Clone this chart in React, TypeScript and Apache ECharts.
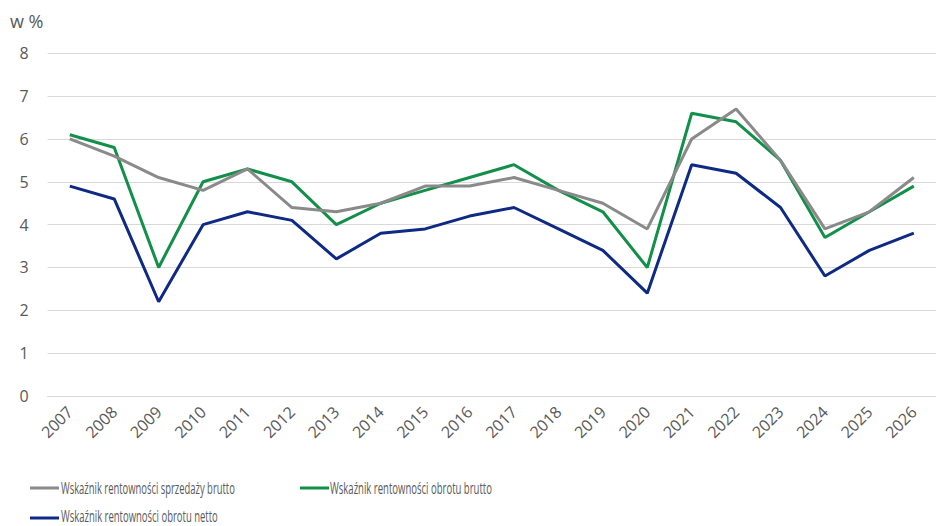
import React, { useEffect, useRef } from "react";
import * as echarts from "echarts";

const years = ["2007","2008","2009","2010","2011","2012","2013","2014","2015","2016","2017","2018","2019","2020","2021","2022","2023","2024","2025","2026"];
const sprzedazyBrutto = [6.0,5.6,5.1,4.8,5.3,4.4,4.3,4.5,4.9,4.9,5.1,4.8,4.5,3.9,6.0,6.7,5.5,3.9,4.3,5.1];
const obrotuBrutto = [6.1,5.8,3.0,5.0,5.3,5.0,4.0,4.5,4.8,5.1,5.4,4.8,4.3,3.0,6.6,6.4,5.5,3.7,4.3,4.9];
const obrotuNetto = [4.9,4.6,2.2,4.0,4.3,4.1,3.2,3.8,3.9,4.2,4.4,3.9,3.4,2.4,5.4,5.2,4.4,2.8,3.4,3.8];
const names = [
  "Wskaźnik rentowności sprzedaży brutto",
  "Wskaźnik rentowności obrotu brutto",
  "Wskaźnik rentowności obrotu netto",
];
const colors = ["#8a8a8a", "#12904a", "#0e2a84"];
const FONT = "'Open Sans', sans-serif";
const TXT = "#595959";

// legend layout: [iconX, lineY, textX, textTargetWidth, textY]
const legendPos: [number, number, number, number, number][] = [
  [30, 488, 61, 174, 487],
  [300, 488, 330, 162, 487],
  [30, 518, 61, 157, 515],
];

function measure(text: string, font: string): number {
  const c = document.createElement("canvas").getContext("2d")!;
  c.font = font;
  return c.measureText(text).width;
}

export default function App() {
  const ref = useRef<HTMLDivElement>(null);
  useEffect(() => {
    const chart = echarts.init(ref.current!, null, { renderer: "svg" });
    const data = [sprzedazyBrutto, obrotuBrutto, obrotuNetto];
    const legendFont = `17px ${FONT}`;
    const legendGraphics: any[] = [];
    names.forEach((n, i) => {
      const [ix, ly, tx, tw, ty] = legendPos[i];
      legendGraphics.push({
        type: "line",
        shape: { x1: ix, y1: ly, x2: ix + 29, y2: ly },
        style: { stroke: colors[i], lineWidth: 3 },
      });
      const w = measure(n, legendFont);
      legendGraphics.push({
        type: "text",
        x: tx,
        y: ty,
        scaleX: tw / w,
        style: { text: n, font: legendFont, fill: TXT, verticalAlign: "middle" },
      });
    });
    chart.setOption({
      animation: false,
      grid: { left: 47.6, right: -7.6, top: 53.3, bottom: 526 - 396 },
      graphic: [
        {
          type: "text",
          x: 10,
          y: 21,
          style: { text: "w %", font: `18px ${FONT}`, fill: TXT, verticalAlign: "middle" },
        },
        ...legendGraphics,
      ],
      xAxis: {
        type: "category",
        data: years,
        boundaryGap: true,
        axisLine: { show: true, lineStyle: { color: "#d9d9d9", width: 1 } },
        axisTick: { show: false },
        axisLabel: { rotate: 45, margin: 13, fontFamily: FONT, fontSize: 16, color: TXT, interval: 0 },
      },
      yAxis: {
        type: "value",
        min: 0,
        max: 8,
        interval: 1,
        axisLine: { show: false },
        axisTick: { show: false },
        splitLine: { lineStyle: { color: "#d9d9d9", width: 1 } },
        axisLabel: { margin: 19, fontFamily: FONT, fontSize: 16, color: TXT },
      },
      series: names.map((n, i) => ({
        name: n,
        type: "line",
        data: data[i],
        symbol: "none",
        lineStyle: { color: colors[i], width: 3 },
        itemStyle: { color: colors[i] },
        z: i === 2 ? 1 : 3 - i,
      })),
    });
    return () => chart.dispose();
  }, []);
  return <div ref={ref} style={{ width: 936, height: 526, position: "absolute", left: 0, top: 0 }} />;
}
